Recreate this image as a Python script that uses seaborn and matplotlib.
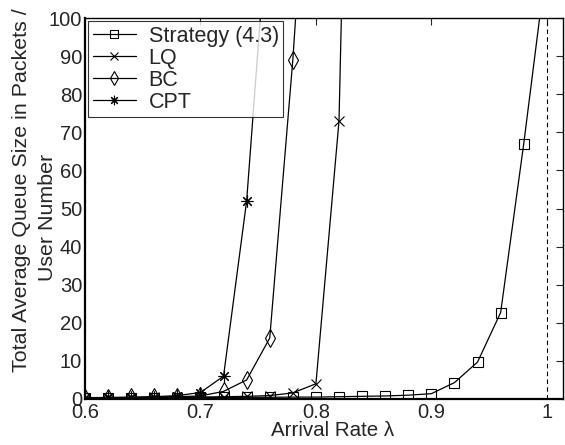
import numpy as np
import pandas as pd
import matplotlib
matplotlib.use("Agg")
import matplotlib.pyplot as plt
import seaborn as sns

strategy_x = [0.60, 0.62, 0.64, 0.66, 0.68, 0.70, 0.72, 0.74, 0.76, 0.78, 0.80, 0.82, 0.84, 0.86, 0.88, 0.90, 0.92, 0.94, 0.96, 0.98, 1.00]
strategy_y = [0.2, 0.25, 0.3, 0.3, 0.35, 0.4, 0.4, 0.45, 0.45, 0.5, 0.5, 0.6, 0.7, 0.8, 1.0, 1.4, 4.3, 9.7, 22.7, 67.0, 115.0]

lq_x = [0.60, 0.62, 0.64, 0.66, 0.68, 0.70, 0.72, 0.74, 0.76, 0.78, 0.80, 0.82, 0.84]
lq_y = [0.25, 0.3, 0.35, 0.4, 0.45, 0.5, 0.6, 0.7, 0.9, 1.6, 4.0, 73.0, 340.0]

bc_x = [0.60, 0.62, 0.64, 0.66, 0.68, 0.70, 0.72, 0.74, 0.76, 0.78, 0.80]
bc_y = [0.3, 0.35, 0.4, 0.5, 0.6, 0.8, 2.0, 5.0, 16.0, 89.0, 180.0]

cpt_x = [0.60, 0.62, 0.64, 0.66, 0.68, 0.70, 0.72, 0.74, 0.76]
cpt_y = [0.35, 0.4, 0.5, 0.6, 0.9, 1.7, 6.0, 52.0, 133.0]

labels = ["Strategy (4.3)", "LQ", "BC", "CPT"]
xticks = [0.6, 0.7, 0.8, 0.9, 1.0]
xtick_labels = ["0.6", "0.7", "0.8", "0.9", "1"]
yticks = list(range(0, 101, 10))
ylabel_lines = ["Total Average Queue Size in Packets /", "User Number"]

sns.set_style("white")
plt.rcParams['font.family'] = ['Liberation Sans', 'DejaVu Sans']

W, H = 565, 445
fig = plt.figure(figsize=(W/100, H/100), dpi=100)
ax = fig.add_axes([85/W, 1 - 399/H, (563-85)/W, (399-18)/H])

series = [(strategy_x, strategy_y, 's', 7), (lq_x, lq_y, 'x', 6.5), (bc_x, bc_y, 'd', 9), (cpt_x, cpt_y, (8, 2, 0), 8.5)]
for (xs, ys, mk, ms), lab in zip(series, labels):
    df = pd.DataFrame({"x": xs, "y": ys})
    sns.lineplot(data=df, x="x", y="y", ax=ax, color="black", linewidth=0.9,
                 marker=mk, markersize=ms, markerfacecolor="none",
                 markeredgecolor="black", markeredgewidth=0.8, label=lab)

ax.axvline(1.0, color="black", linestyle=(0, (4, 3)), linewidth=0.8)

ax.set_xlim(0.6, 1.014)
ax.set_ylim(0, 100)
ax.set_xticks(xticks)
ax.set_xticklabels(xtick_labels)
ax.set_yticks(yticks)
ax.tick_params(direction="in", top=True, right=True, length=5, width=0.8,
               labelsize=14.5, pad=2)
ax.tick_params(axis="x", pad=3)
for s in ax.spines.values():
    s.set_linewidth(1.0)
    s.set_color("black")
ax.spines["left"].set_linewidth(1.6)
ax.spines["bottom"].set_linewidth(1.6)

ax.set_xlabel("Arrival Rate λ", fontsize=14.8, va="top")
ax.xaxis.set_label_coords(333/W, 1 - 421/H, transform=fig.transFigure)

ax.set_ylabel(ylabel_lines[0], fontsize=15.4, va="baseline")
ax.yaxis.set_label_coords(27/W, 1 - 190/H, transform=fig.transFigure)
ax.text(53/W, 1 - 217/H, ylabel_lines[1], transform=fig.transFigure, fontsize=15.4,
        rotation=90, rotation_mode="anchor", ha="center", va="baseline")

leg = ax.legend(loc="upper left", fontsize=15.5, frameon=True, fancybox=False,
                edgecolor="black", borderpad=0.2, labelspacing=0.05,
                handlelength=2.0, handletextpad=0.6, borderaxespad=0.15,
                markerscale=0.8)
leg.get_frame().set_linewidth(0.8)

fig.savefig("out.png", dpi=100)
